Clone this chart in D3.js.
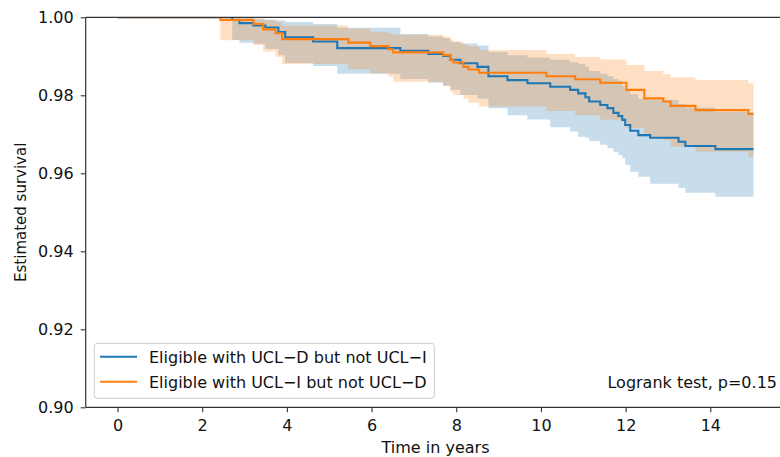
<!DOCTYPE html>
<html>
<head>
<meta charset="utf-8">
<script src="https://cdn.jsdelivr.net/npm/d3@7"></script>
<style>
  body { margin: 0; background: #fff; }
  svg { font-family: "DejaVu Sans", sans-serif; }
</style>
</head>
<body>
<div id="chart"></div>
<script>
const width = 780;
const height = 457;

// Kaplan-Meier steps
const blueTimes = [2.71, 2.88, 3.21, 3.49, 3.80, 3.96, 4.62, 5.19, 6.68, 7.34, 7.69, 7.86, 8.10, 8.50, 8.76, 9.21, 9.68, 10.22, 10.69, 10.88, 11.05, 11.14, 11.40, 11.57, 11.71, 11.83, 11.92, 11.99, 12.11, 12.30, 12.58, 13.25, 13.41, 14.12];
const blueSurv = [0.9993, 0.9985, 0.9979, 0.9974, 0.9962, 0.9949, 0.9938, 0.9921, 0.9914, 0.9906, 0.9901, 0.9891, 0.9882, 0.9873, 0.9849, 0.9839, 0.9831, 0.9822, 0.9814, 0.9805, 0.9795, 0.9784, 0.9775, 0.9767, 0.9755, 0.9747, 0.9737, 0.9724, 0.9709, 0.9698, 0.9691, 0.9681, 0.9670, 0.9662];
const blueUpper = [0.9999, 0.9998, 0.9996, 0.9994, 0.9992, 0.9988, 0.9983, 0.9973, 0.9957, 0.9951, 0.9946, 0.9937, 0.9933, 0.9928, 0.9911, 0.9903, 0.9897, 0.9891, 0.9885, 0.9880, 0.9873, 0.9862, 0.9855, 0.9849, 0.9842, 0.9837, 0.9824, 0.9814, 0.9803, 0.9792, 0.9788, 0.9778, 0.9769, 0.9757];
const blueLower = [0.9942, 0.9935, 0.9932, 0.9919, 0.9903, 0.9883, 0.9875, 0.9855, 0.9842, 0.9832, 0.9824, 0.9814, 0.9801, 0.9791, 0.9767, 0.9749, 0.9738, 0.9718, 0.9707, 0.9694, 0.9691, 0.9683, 0.9673, 0.9664, 0.9655, 0.9647, 0.9639, 0.9621, 0.9604, 0.9591, 0.9573, 0.9562, 0.9550, 0.9540];

const orangeTimes = [2.43, 3.21, 3.44, 3.73, 3.89, 5.45, 5.97, 6.40, 6.51, 7.69, 7.86, 7.93, 8.17, 8.29, 8.54, 10.13, 10.81, 11.40, 12.02, 12.44, 12.89, 13.06, 13.65, 14.90];
const orangeSurv = [0.9993, 0.9983, 0.9969, 0.9959, 0.9944, 0.9935, 0.9926, 0.9918, 0.9910, 0.9903, 0.9891, 0.9884, 0.9873, 0.9866, 0.9858, 0.9849, 0.9841, 0.9832, 0.9814, 0.9792, 0.9784, 0.9773, 0.9762, 0.9752];
const orangeUpper = [0.9999, 0.9997, 0.9993, 0.9988, 0.9979, 0.9971, 0.9963, 0.9959, 0.9955, 0.9950, 0.9943, 0.9937, 0.9930, 0.9926, 0.9916, 0.9906, 0.9898, 0.9892, 0.9878, 0.9862, 0.9854, 0.9846, 0.9839, 0.9831];
const orangeLower = [0.9941, 0.9929, 0.9912, 0.9899, 0.9880, 0.9867, 0.9856, 0.9848, 0.9835, 0.9826, 0.9809, 0.9801, 0.9792, 0.9781, 0.9771, 0.9760, 0.9749, 0.9737, 0.9716, 0.9694, 0.9685, 0.9668, 0.9655, 0.9641];

const endTime = 15.02;
const seriesNames = ['Eligible with UCL\u2212D but not UCL\u2212I', 'Eligible with UCL\u2212I but not UCL\u2212D'];
const xTicks = [0, 2, 4, 6, 8, 10, 12, 14];
const yTicks = [0.90, 0.92, 0.94, 0.96, 0.98, 1.00];

const plotLeft = 85.7, plotRight = 785.3, plotTop = 17.3, plotBottom = 407.3;

const x = d3.scaleLinear()
  .domain([-0.05 * endTime, 1.05 * endTime])
  .range([plotLeft, plotRight]);

const y = d3.scaleLinear()
  .domain([0.90, 1.00])
  .range([plotBottom, plotTop]);

function buildSteps(times, surv, lo, hi) {
  const pts = [{t: 0, s: 1, lo: 1, hi: 1}];
  times.forEach((t, i) => pts.push({t: t, s: surv[i], lo: lo[i], hi: hi[i]}));
  const last = pts[pts.length - 1];
  pts.push({t: endTime, s: last.s, lo: last.lo, hi: last.hi});
  return pts;
}

const series = [
  {name: seriesNames[0], color: '#1f77b4', pts: buildSteps(blueTimes, blueSurv, blueLower, blueUpper)},
  {name: seriesNames[1], color: '#ff7f0e', pts: buildSteps(orangeTimes, orangeSurv, orangeLower, orangeUpper)}
];

const svg = d3.select('#chart')
  .append('svg')
  .attr('width', width)
  .attr('height', height);

svg.append('defs').append('clipPath')
  .attr('id', 'plotclip')
  .append('rect')
  .attr('x', plotLeft)
  .attr('y', plotTop)
  .attr('width', plotRight - plotLeft)
  .attr('height', plotBottom - plotTop);

const line = d3.line()
  .x(d => x(d.t))
  .y(d => y(d.s))
  .curve(d3.curveStepAfter);

const area = d3.area()
  .x(d => x(d.t))
  .y0(d => y(d.lo))
  .y1(d => y(d.hi))
  .curve(d3.curveStepAfter);

const plot = svg.append('g').attr('clip-path', 'url(#plotclip)');

// bands first, then the lines on top
series.forEach(s => {
  plot.append('path')
    .datum(s.pts)
    .attr('d', area)
    .attr('fill', s.color)
    .attr('fill-opacity', 0.25)
    .attr('stroke', 'none');
});
series.forEach(s => {
  plot.append('path')
    .datum(s.pts)
    .attr('d', line)
    .attr('fill', 'none')
    .attr('stroke', s.color)
    .attr('stroke-width', 2.1);
});

// axes
const xAxis = svg.append('g')
  .attr('transform', `translate(0,${plotBottom})`)
  .call(d3.axisBottom(x).tickValues(xTicks).tickFormat(d3.format('d')).tickSize(5).tickPadding(7));

const yAxis = svg.append('g')
  .attr('transform', `translate(${plotLeft},0)`)
  .call(d3.axisLeft(y).tickValues(yTicks).tickFormat(d3.format('.2f')).tickSize(5).tickPadding(7));

[xAxis, yAxis].forEach(g => {
  g.select('.domain').remove();
  g.selectAll('.tick line').attr('stroke', '#333').attr('stroke-width', 1.1);
  g.selectAll('.tick text')
    .attr('fill', '#111')
    .style('font-size', '16px')
    .style('font-family', '"DejaVu Sans", sans-serif');
});

// spines
const spines = svg.append('g')
  .attr('stroke', '#333')
  .attr('stroke-width', 1.2);
spines.append('line').attr('x1', plotLeft).attr('x2', plotLeft).attr('y1', plotTop).attr('y2', plotBottom);
spines.append('line').attr('x1', plotLeft).attr('x2', plotRight).attr('y1', plotBottom).attr('y2', plotBottom);
spines.append('line').attr('x1', plotLeft).attr('x2', plotRight).attr('y1', plotTop).attr('y2', plotTop);
spines.append('line').attr('x1', plotRight).attr('x2', plotRight).attr('y1', plotTop).attr('y2', plotBottom);

// axis labels
svg.append('text')
  .attr('x', (plotLeft + plotRight) / 2)
  .attr('y', 453)
  .attr('text-anchor', 'middle')
  .style('font-size', '16px')
  .attr('fill', '#111')
  .text('Time in years');

svg.append('text')
  .attr('transform', `translate(26,${(plotTop + plotBottom) / 2}) rotate(-90)`)
  .attr('text-anchor', 'middle')
  .style('font-size', '15px')
  .attr('fill', '#111')
  .text('Estimated survival');

// logrank annotation
svg.append('text')
  .attr('x', 777)
  .attr('y', 388)
  .attr('text-anchor', 'end')
  .style('font-size', '16px')
  .attr('fill', '#111')
  .text('Logrank test, p=0.15');

// legend
const legend = svg.append('g').attr('transform', 'translate(94.3,343.3)');
legend.append('rect')
  .attr('width', 340)
  .attr('height', 55)
  .attr('rx', 3)
  .attr('fill', '#fff')
  .attr('fill-opacity', 0.8)
  .attr('stroke', '#ccc')
  .attr('stroke-width', 1);

series.forEach((s, i) => {
  const row = legend.append('g').attr('transform', `translate(0,${13.4 + i * 25})`);
  row.append('line')
    .attr('x1', 5.7).attr('x2', 42.7)
    .attr('stroke', s.color)
    .attr('stroke-width', 2.1);
  row.append('text')
    .attr('x', 54.7)
    .attr('y', 6.2)
    .style('font-size', '16px')
    .attr('fill', '#111')
    .text(s.name);
});
</script>
</body>
</html>
